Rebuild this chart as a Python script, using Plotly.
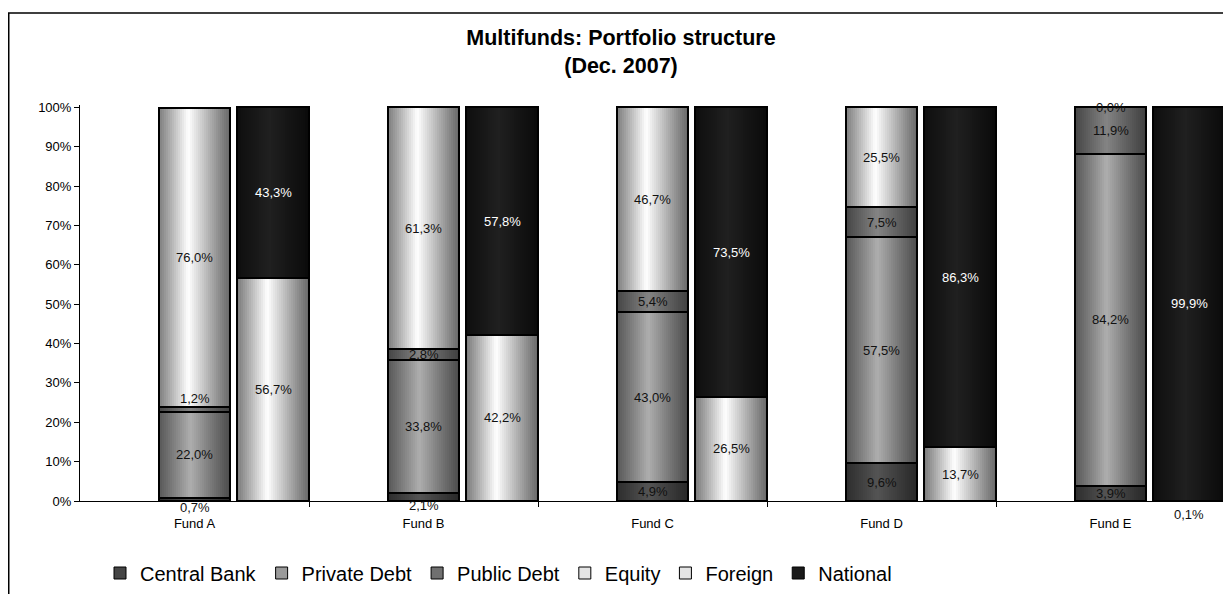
import plotly.graph_objects as go

# ---------------- data ----------------
funds = ["Fund A", "Fund B", "Fund C", "Fund D", "Fund E"]
central_bank = [0.7, 2.1, 4.9, 9.6, 3.9]
private_debt = [22.0, 33.8, 43.0, 57.5, 84.2]
public_debt = [1.2, 2.8, 5.4, 7.5, 11.9]
equity = [76.0, 61.3, 46.7, 25.5, 0.0]
foreign = [56.7, 42.2, 26.5, 13.7, 0.1]
national = [43.3, 57.8, 73.5, 86.3, 99.9]
y_tick_values = [0, 10, 20, 30, 40, 50, 60, 70, 80, 90, 100]
y_tick_labels = ["0%", "10%", "20%", "30%", "40%", "50%", "60%", "70%", "80%", "90%", "100%"]

# ---------------- style ----------------
FONT = "Liberation Sans, Arial, sans-serif"
FIG_W, FIG_H = 1223, 586   # page body has an 8px margin
ML, MT, MB = 72, 97, 93
PLOT_W = FIG_W - ML
PLOT_H = FIG_H - MT - MB
BAR_W = 0.314          # bar width in category units
LEFT_OFF = 0.0         # left stack centred on category
RIGHT_OFF = 0.343      # right stack offset
N_STRIPS = 36          # strips used to imitate the horizontal gradient

# gradient spec: (left edge grey, peak grey, right edge grey, peak position)
grad = {
    "Central Bank": (0x2c, 0x54, 0x28, 0.45),
    "Private Debt": (0x55, 0xae, 0x4c, 0.45),
    "Public Debt": (0x44, 0x84, 0x40, 0.45),
    "Equity": (0x7a, 0xff, 0x68, 0.42),
    "Foreign": (0x7a, 0xff, 0x68, 0.42),
    "National": (0x0e, 0x20, 0x0a, 0.45),
}
legend_color = {
    "Central Bank": "#454545", "Private Debt": "#9a9a9a", "Public Debt": "#707070",
    "Equity": "#e4e4e4", "Foreign": "#e4e4e4", "National": "#1a1a1a",
}
label_color = {
    "Central Bank": "#111111", "Private Debt": "#111111", "Public Debt": "#111111",
    "Equity": "#111111", "Foreign": "#111111", "National": "#ffffff",
}
# manual label nudges (pixels, + = up) for tiny segments
label_shift = {
    ("Fund A", "Central Bank"): -8,
    ("Fund A", "Public Debt"): 11,
    ("Fund B", "Central Bank"): -9,
    ("Fund E", "Foreign"): -14,
}

left_series = [("Central Bank", central_bank), ("Private Debt", private_debt),
               ("Public Debt", public_debt), ("Equity", equity)]
right_series = [("Foreign", foreign), ("National", national)]


def grey(v):
    v = int(max(0, min(255, round(v))))
    return "#%02x%02x%02x" % (v, v, v)


def grad_color(name, t):
    le, pk, re_, c = grad[name]
    if t <= c:
        s = t / c
        edge = le
    else:
        s = (1 - t) / (1 - c)
        edge = re_
    f = s ** 1.05
    return grey(edge + (pk - edge) * f)


fig = go.Figure()
idx = list(range(len(funds)))

# gradient strips (main axes)
for off, group in ((LEFT_OFF, left_series), (RIGHT_OFF, right_series)):
    for k in range(N_STRIPS):
        t = (k + 0.5) / N_STRIPS
        dx = -BAR_W / 2 + (k + 0.5) * BAR_W / N_STRIPS
        for name, vals in group:
            fig.add_trace(go.Bar(
                x=[i + off + dx for i in idx], y=vals,
                width=BAR_W / N_STRIPS * 1.3,
                marker=dict(color=grad_color(name, t), line=dict(width=0)),
                showlegend=False, hoverinfo="skip",
            ))

# outlines (overlay axes)
for off, group in ((LEFT_OFF, left_series), (RIGHT_OFF, right_series)):
    for name, vals in group:
        fig.add_trace(go.Bar(
            x=[i + off for i in idx], y=vals, width=BAR_W,
            marker=dict(color="rgba(0,0,0,0)", line=dict(color="#000000", width=2)),
            xaxis="x2", yaxis="y2", showlegend=False, hoverinfo="skip",
        ))

# legend entries
for name, _ in left_series + right_series:
    fig.add_trace(go.Bar(
        x=[None], y=[None], name=name,
        marker=dict(color=legend_color[name], line=dict(color="#000000", width=1)),
    ))

# data labels
annotations = []
for off, group in ((LEFT_OFF, left_series), (RIGHT_OFF, right_series)):
    base = [0.0] * len(funds)
    for name, vals in group:
        for i, v in enumerate(vals):
            mid = base[i] + v / 2
            annotations.append(dict(
                x=i + off, y=mid, xref="x", yref="y",
                text=("%.1f%%" % v).replace(".", ","),
                showarrow=False,
                font=dict(family=FONT, size=13, color=label_color[name]),
                yshift=label_shift.get((funds[i], name), 0),
            ))
            base[i] += v

X_RANGE = [-0.5, -0.5 + PLOT_W / 229.0]
Y_RANGE = [0, 100.6]

fig.update_layout(
    width=FIG_W, height=FIG_H,
    margin=dict(l=ML, r=0, t=MT, b=MB),
    paper_bgcolor="#ffffff", plot_bgcolor="#ffffff",
    barmode="stack", bargap=0,
    font=dict(family=FONT, size=13, color="#000000"),
    title=dict(
        text="<b>Multifunds: Portfolio structure<br>(Dec. 2007)</b>",
        x=613 / FIG_W, xref="container", xanchor="center",
        y=1 - 36.6 / FIG_H, yref="container", yanchor="top",
        font=dict(family=FONT, size=21.5, color="#000000"),
    ),
    xaxis=dict(
        range=X_RANGE, tickmode="array", tickvals=idx, ticktext=funds,
        ticks="", showline=True, linecolor="#000000", linewidth=1,
        showgrid=False, zeroline=False, tickfont=dict(family=FONT, size=13),
        ticklabelstandoff=10,
        minor=dict(tickmode="array", tickvals=[i + 0.5 for i in idx],
                   ticks="outside", ticklen=5, tickcolor="#000000", tickwidth=1),
    ),
    yaxis=dict(
        range=Y_RANGE, tickmode="array", tickvals=y_tick_values, ticktext=y_tick_labels,
        ticks="outside", ticklen=5, tickcolor="#000000", tickwidth=1,
        showline=True, linecolor="#000000", linewidth=1,
        showgrid=False, zeroline=False, tickfont=dict(family=FONT, size=13),
    ),
    xaxis2=dict(range=X_RANGE, overlaying="x", anchor="y2", visible=False),
    yaxis2=dict(range=Y_RANGE, overlaying="y", anchor="x2", visible=False),
    legend=dict(
        orientation="h", x=(100 - 8 - ML) / PLOT_W, xanchor="left",
        y=-(573 - 8 - (MT + PLOT_H)) / PLOT_H, yanchor="middle",
        font=dict(family=FONT, size=20, color="#000000"),
        traceorder="normal", bgcolor="rgba(0,0,0,0)", itemwidth=30,
    ),
    annotations=annotations,
    shapes=[dict(
        type="rect", xref="paper", yref="paper",
        x0=(0.75 - ML) / PLOT_W, x1=1.02,
        y0=-(MB + 10) / PLOT_H, y1=1 + (MT - 5) / PLOT_H,
        line=dict(color="#000000", width=1.5), fillcolor="rgba(0,0,0,0)",
        layer="below",
    )],
)

fig.write_html("out.html", config={"displayModeBar": False})
